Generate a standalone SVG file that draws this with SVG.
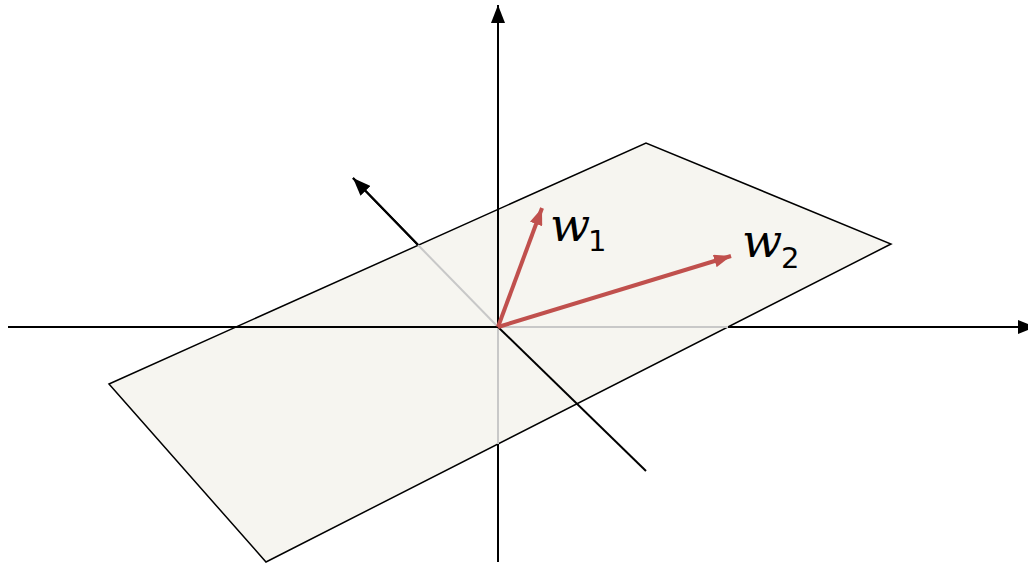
<svg xmlns="http://www.w3.org/2000/svg" width="1028" height="566" viewBox="0 0 1028 566">
<style>
.axis{stroke:#000;stroke-width:2;fill:none}
.hidden{stroke:#c8c8c8;stroke-width:2;fill:none}
.vec{stroke:#C0504D;stroke-width:4;fill:none}
.lbl{font-family:"DejaVu Serif","Liberation Serif",serif;font-style:italic;font-size:47px;fill:#000}
.sub{font-family:"DejaVu Sans","Liberation Sans",sans-serif;font-size:29px;fill:#000}
</style>
<defs>
<marker id="ahb" viewBox="0 0 18 14" refX="18" refY="7" markerWidth="18" markerHeight="14" orient="auto" markerUnits="userSpaceOnUse">
<path d="M0,0 L18,7 L0,14 Z" fill="#000"/>
</marker>
<marker id="ahr" viewBox="0 0 17 13" refX="17" refY="6.5" markerWidth="17" markerHeight="13" orient="auto" markerUnits="userSpaceOnUse">
<path d="M0,0 L17,6.5 L0,13 Z" fill="#C0504D"/>
</marker>
</defs>
<g id="axes-back">
<line class="axis" x1="498" y1="562" x2="498" y2="327"/>
<line class="axis" x1="498" y1="327" x2="1028" y2="327"/>
<line class="axis" x1="498" y1="327" x2="353" y2="178"/>
</g>
<g id="plane">
<polygon points="109,384 646,143 891,244 266,562" fill="#F6F5F0" stroke="#000" stroke-width="1.5" stroke-linejoin="miter"/>
</g>
<g id="connectors">
<line class="hidden" x1="498" y1="327" x2="498" y2="444"/>
<line class="hidden" x1="498" y1="327" x2="728" y2="327"/>
<line class="hidden" x1="498" y1="327" x2="418" y2="245" stroke-width="1.5"/>
<line class="axis" x1="498" y1="327" x2="498" y2="5" marker-end="url(#ahb)"/>
<line class="axis" x1="8" y1="327" x2="498" y2="327"/>
<line class="axis" x1="728" y1="327" x2="1036" y2="327" marker-end="url(#ahb)"/>
<line class="axis" x1="418" y1="245" x2="353" y2="178" marker-end="url(#ahb)"/>
<line class="axis" x1="498" y1="327" x2="646" y2="471"/>
</g>
<g id="w1">
<line class="vec" x1="498" y1="327" x2="542" y2="208" marker-end="url(#ahr)"/>
<text class="lbl" x="550" y="241">w</text>
<text class="sub" x="588" y="251">1</text>
</g>
<g id="w2">
<line class="vec" x1="498" y1="327" x2="731" y2="256" marker-end="url(#ahr)"/>
<text class="lbl" x="742" y="257">w</text>
<text class="sub" x="781" y="268">2</text>
</g>
</svg>
